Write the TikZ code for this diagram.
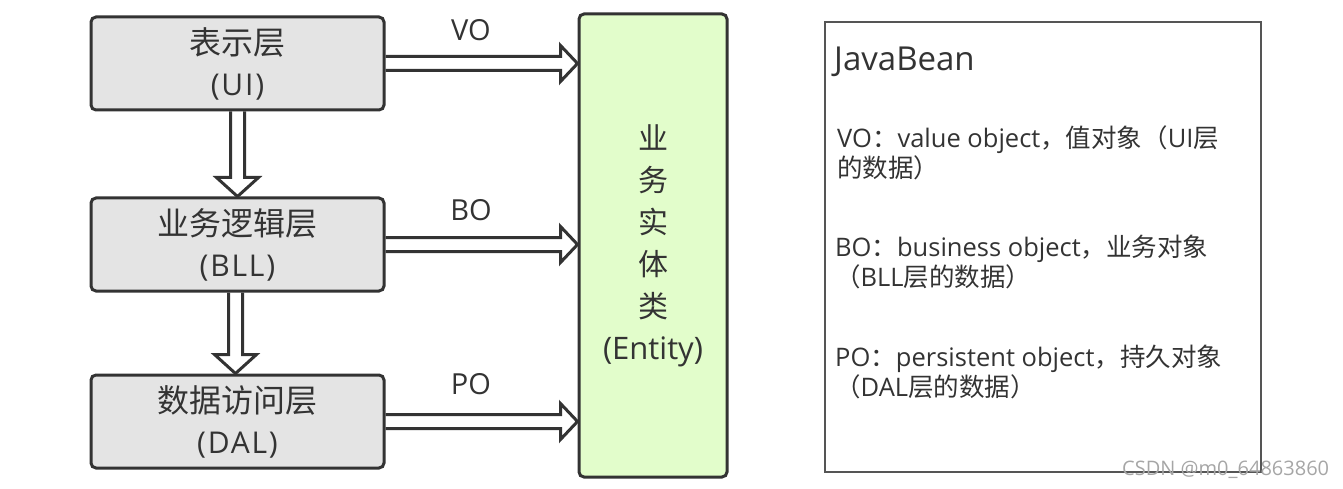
\documentclass[tikz,border=0pt]{standalone}
\usepackage{fontspec}
\setmainfont{Open Sans}
\newfontfamily\cjk{Noto Sans CJK SC}
\newfontfamily\wide[LetterSpace=6]{Open Sans}
\usetikzlibrary{calc}
\definecolor{dark}{HTML}{333333}
\definecolor{layerfill}{HTML}{E4E4E4}
\definecolor{entfill}{HTML}{E2FDCB}
\definecolor{panel}{HTML}{555555}
\definecolor{txt}{HTML}{333333}
\tikzset{
  layer/.style={draw=dark, line width=3pt, fill=layerfill, rounded corners=5pt,
    minimum width=293pt, minimum height=93pt, align=center, text=txt,
    font=\wide\fontsize{30}{41}\selectfont},
  entity/.style={draw=dark, line width=3pt, fill=entfill, rounded corners=5pt,
    minimum width=148pt, minimum height=463pt, align=center, text=txt,
    font=\fontsize{31}{42}\selectfont},
  arr/.style={draw=dark, line width=3pt, line join=miter},
  lbl/.style={text=txt, font=\fontsize{29}{34}\selectfont, inner sep=0pt},
  ptxt/.style={text=txt, font=\fontsize{25.5}{30}\selectfont, inner sep=0pt, anchor=base west},
}
\newcommand\harr[2]{\draw[arr] let \p1=(#1), \p2=(#2) in
  (\x1,\y1+7pt) -- (\x2-17pt,\y1+7pt) -- (\x2-17pt,\y1+18pt) -- (\x2,\y1)
  -- (\x2-17pt,\y1-18pt) -- (\x2-17pt,\y1-7pt) -- (\x1,\y1-7pt);}
\newcommand\varr[2]{\draw[arr] let \p1=(#1), \p2=(#2) in
  (\x1-7pt,\y1) -- (\x1-7pt,\y2+19pt) -- (\x1-21pt,\y2+19pt) -- (\x1,\y2)
  -- (\x1+21pt,\y2+19pt) -- (\x1+7pt,\y2+19pt) -- (\x1+7pt,\y1);}
\begin{document}
\begin{tikzpicture}[x=1pt,y=-1pt]
\useasboundingbox (0,0) rectangle (1343,489);
% layers
\node[layer] (ui) at (237.5,63.5) {{\cjk\fontsize{32}{41}\selectfont 表示层}\\(UI)};
\node[layer] (bll) at (237.5,244.5) {{\cjk\fontsize{32}{41}\selectfont 业务逻辑层}\\(BLL)};
\node[layer] (dal) at (237.5,421.5) {{\cjk\fontsize{32}{41}\selectfont 数据访问层}\\(DAL)};
% entity
\node[entity] (ent) at (653,245.5) {{\cjk\fontsize{30}{42}\selectfont 业}\\{\cjk\fontsize{30}{42}\selectfont 务}\\{\cjk\fontsize{30}{42}\selectfont 实}\\{\cjk\fontsize{30}{42}\selectfont 体}\\{\cjk\fontsize{30}{42}\selectfont 类}\\(Entity)};
% connectors
\coordinate (bllsrc) at ($(bll.south)+(-2,0)$);
\coordinate (daltop) at ($(dal.north)+(-2,0)$);
\varr{ui.south}{bll.north}
\varr{bllsrc}{daltop}
\harr{ui.east}{ent.west}
\harr{bll.east}{ent.west}
\harr{dal.east}{ent.west}
% labels
\node[lbl] (vo) at (471,30) {VO};
\node[lbl] (bo) at (471,210) {BO};
\node[lbl] (po) at (471,384) {PO};
% JavaBean panel
\node[draw=panel, line width=2pt, minimum width=436pt, minimum height=450pt, inner sep=0pt] (bean) at (1043,247) {};
\node[text=txt, font=\fontsize{33}{36}\selectfont, inner sep=0pt, anchor=base west] (jb) at (834,71) {JavaBean};
\node[ptxt] (vo1) at (837,148) {VO{\cjk ：}value object{\cjk ，值对象（}UI{\cjk 层}};
\node[ptxt] (vo2) at (837,178) {{\cjk 的数据）}};
\node[ptxt] (bo1) at (835,256) {BO{\cjk ：}business object{\cjk ，业务对象}};
\node[ptxt] (bo2) at (835,286) {{\cjk （}BLL{\cjk 层的数据）}};
\node[ptxt] (po1) at (835,366) {PO{\cjk ：}persistent object{\cjk ，持久对象}};
\node[ptxt] (po2) at (835,396) {{\cjk （}DAL{\cjk 层的数据）}};
% watermark
\node[text=black!35, font=\fontsize{20}{22}\selectfont, inner sep=0pt, anchor=west] (wm) at (1122,470) {CSDN @m0\_64863860};
\end{tikzpicture}
\end{document}
